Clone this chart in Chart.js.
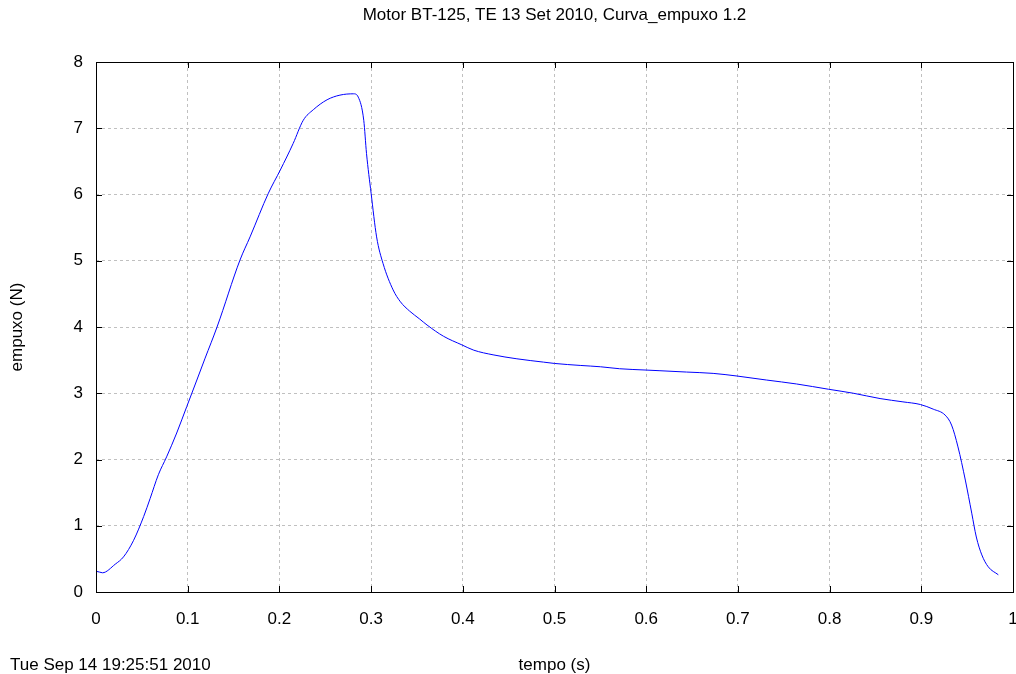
<!DOCTYPE html>
<html>
<head>
<meta charset="utf-8">
<script src="https://cdn.jsdelivr.net/npm/chart.js@4/dist/chart.umd.min.js"></script>
<style>
  html, body { margin: 0; padding: 0; background: #fff; }
  #wrap { width: 1016px; height: 674px; }
</style>
</head>
<body>
<div id="wrap"><canvas id="chart" width="1016" height="674"></canvas></div>
<script>
// tempo (s) e empuxo (N)
const tempo = [
  0.000, 0.001, 0.007, 0.021, 0.030, 0.041, 0.052, 0.059, 0.068, 0.077,
  0.088, 0.099, 0.110, 0.119, 0.132, 0.157, 0.168, 0.188, 0.201, 0.215,
  0.226, 0.237, 0.252, 0.266, 0.281, 0.286, 0.292, 0.295, 0.300, 0.306,
  0.313, 0.324, 0.332, 0.342, 0.353, 0.361, 0.379, 0.399, 0.412, 0.433,
  0.459, 0.488, 0.500, 0.528, 0.550, 0.571, 0.600, 0.615, 0.644, 0.673,
  0.699, 0.731, 0.764, 0.799, 0.826, 0.855, 0.880, 0.899, 0.913, 0.926,
  0.933, 0.940, 0.948, 0.955, 0.960, 0.966, 0.973, 0.984
]
const empuxo = [
  0.29, 0.31, 0.29, 0.42, 0.53, 0.78, 1.14, 1.41, 1.77, 2.04,
  2.40, 2.80, 3.20, 3.53, 4.00, 5.01, 5.36, 6.02, 6.37, 6.77,
  7.12, 7.28, 7.43, 7.50, 7.52, 7.47, 7.12, 6.62, 6.02, 5.36,
  4.96, 4.56, 4.38, 4.24, 4.12, 4.03, 3.86, 3.73, 3.65, 3.58,
  3.52, 3.47, 3.45, 3.42, 3.40, 3.37, 3.35, 3.34, 3.32, 3.30,
  3.26, 3.20, 3.14, 3.06, 3.00, 2.92, 2.87, 2.83, 2.76, 2.67,
  2.52, 2.19, 1.69, 1.19, 0.83, 0.56, 0.38, 0.26
]
const titulo = 'Motor BT-125, TE 13 Set 2010, Curva_empuxo 1.2'
const rotuloX = 'tempo (s)'
const rotuloY = 'empuxo (N)'
const carimbo = 'Tue Sep 14 19:25:51 2010'

const FONT = { family: 'Liberation Sans, Arial, sans-serif', size: 17 }

// moldura com marcas internas nos quatro lados, titulo e data no rodape
const moldura = {
  id: 'moldura',
  afterDraw(chart) {
    const { ctx, chartArea: a, scales } = chart
    ctx.save()
    ctx.strokeStyle = '#000'
    ctx.lineWidth = 1
    ctx.beginPath()
    const L = 6
    scales.x.ticks.forEach(t => {
      const px = Math.round(scales.x.getPixelForValue(t.value)) + 0.5
      ctx.moveTo(px, a.bottom); ctx.lineTo(px, a.bottom - L)
      ctx.moveTo(px, a.top); ctx.lineTo(px, a.top + L)
    })
    scales.y.ticks.forEach(t => {
      const py = Math.round(scales.y.getPixelForValue(t.value)) + 0.5
      ctx.moveTo(a.left, py); ctx.lineTo(a.left + L, py)
      ctx.moveTo(a.right, py); ctx.lineTo(a.right - L, py)
    })
    ctx.stroke()
    ctx.strokeRect(Math.round(a.left) + 0.5, Math.round(a.top) + 0.5,
      Math.round(a.right - a.left), Math.round(a.bottom - a.top))
    ctx.fillStyle = '#000'
    ctx.font = FONT.size + 'px ' + FONT.family
    ctx.textBaseline = 'middle'
    ctx.textAlign = 'center'
    ctx.fillText(titulo, (a.left + a.right) / 2, 15)
    ctx.textAlign = 'left'
    ctx.fillText(carimbo, 10, 665)
    ctx.restore()
  }
}

new Chart(document.getElementById('chart'), {
  type: 'line',
  data: {
    datasets: [{
      data: tempo.map((t, i) => ({ x: t, y: empuxo[i] })),
      borderColor: '#0000ff',
      borderWidth: 1,
      pointRadius: 0,
      cubicInterpolationMode: 'monotone',
      fill: false
    }]
  },
  options: {
    responsive: false,
    animation: false,
    layout: { padding: { top: 62, left: 0, right: 0, bottom: 0 } },
    plugins: {
      legend: { display: false },
      tooltip: { enabled: false },
      title: { display: false }
    },
    scales: {
      x: {
        type: 'linear',
        min: 0, max: 1,
        ticks: {
          stepSize: 0.1, color: '#000', font: FONT, padding: 16.8, maxRotation: 0,
          callback: v => String(Number(v.toFixed(1)))
        },
        grid: { color: '#c0c0c0', drawTicks: false },
        border: { display: false, dash: [3, 3] },
        title: {
          display: true, text: rotuloX, color: '#000',
          font: { ...FONT, lineHeight: 1 }, padding: { top: 0, bottom: 0.5 }
        },
        afterFit(s) { s.height = 82; s.paddingRight = 3 }
      },
      y: {
        min: 0, max: 8,
        ticks: { stepSize: 1, color: '#000', font: FONT, padding: 13 },
        grid: { color: '#c0c0c0', drawTicks: false },
        border: { display: false, dash: [3, 3] },
        title: {
          display: true, text: rotuloY, color: '#000',
          font: { ...FONT, lineHeight: 1 }, padding: { top: 8.5, bottom: 0 }
        },
        afterFit(s) { s.width = 96 }
      }
    }
  },
  plugins: [moldura]
})
</script>
</body>
</html>
